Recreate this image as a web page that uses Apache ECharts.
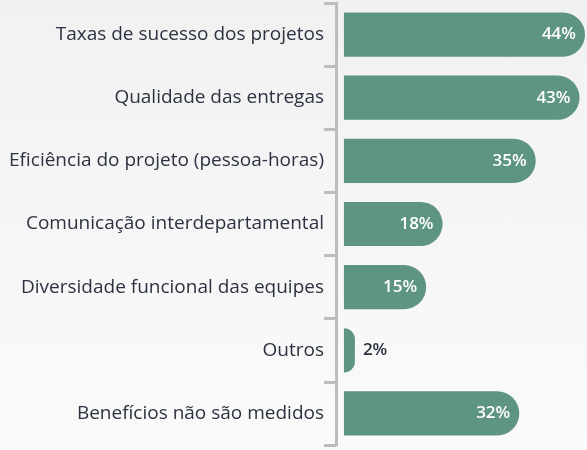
<!DOCTYPE html>
<html>
<head>
<meta charset="utf-8">
<script src="https://cdn.jsdelivr.net/npm/echarts@6/dist/echarts.min.js"></script>
<style>
  html, body { margin: 0; padding: 0; }
  #chart { width: 587px; height: 450px; background: linear-gradient(180deg, #f1f1f2 0%, #f6f6f7 50%, #fafafa 100%); }
</style>
</head>
<body>
<div id="chart"></div>
<script>
const categories = [
  'Taxas de sucesso dos projetos',
  'Qualidade das entregas',
  'Eficiência do projeto (pessoa-horas)',
  'Comunicação interdepartamental',
  'Diversidade funcional das equipes',
  'Outros',
  'Benefícios não são medidos'
];
const values = [44, 43, 35, 18, 15, 2, 32];

const chart = echarts.init(document.getElementById('chart'));

// small negative min leaves a gap between the axis line and the bar bases
chart.setOption({
  animation: false,
  grid: { left: 336, right: 2, top: 3, bottom: 5, containLabel: false },
  xAxis: {
    type: 'value',
    min: -1.45,
    max: 44,
    show: false
  },
  yAxis: {
    type: 'category',
    inverse: true,
    data: categories,
    axisLine: { onZero: false, lineStyle: { color: '#bdbdc1', width: 3 } },
    axisTick: { show: true, length: 12, lineStyle: { color: '#bdbdc1', width: 3 } },
    axisLabel: {
      margin: 12,
      color: '#2c3240',
      fontSize: 19,
      fontFamily: 'Open Sans'
    }
  },
  series: [{
    type: 'bar',
    data: values.map(v => ({
      value: v,
      label: v < 5
        ? { position: 'right', color: '#2c3240', distance: 8 }
        : { position: 'insideRight', color: '#ffffff', distance: 9 }
    })),
    barCategoryGap: '30%',
    itemStyle: { color: '#5e9484', borderRadius: [0, 22, 22, 0] },
    label: {
      show: true,
      formatter: '{c}%',
      fontSize: 17,
      fontWeight: 600,
      fontFamily: 'Open Sans'
    }
  }]
});
</script>
</body>
</html>
